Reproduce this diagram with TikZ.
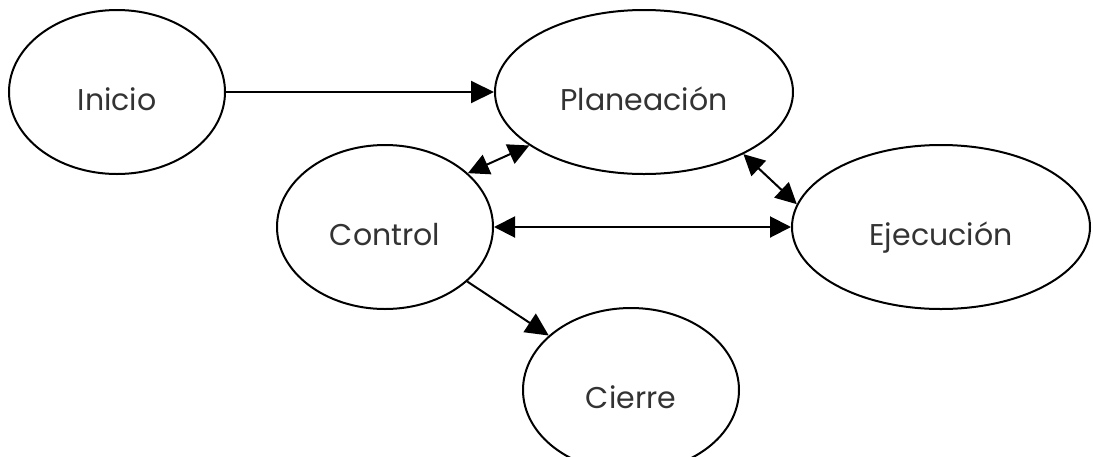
\documentclass[tikz,border=0pt]{standalone}
\usepackage{fontspec}
\setmainfont{Poppins}
\usetikzlibrary{shapes.geometric,arrows.meta}
\tikzset{
  etapa/.style={draw,ellipse,line width=2pt,inner sep=0pt,
    minimum height=164pt,text=black!80,text height=36pt,text depth=0pt,
    font=\fontsize{30}{32}\selectfont},
  flecha/.style={line width=2pt,-{Triangle[length=23pt,width=22pt]}},
  doble/.style={line width=2pt,{Triangle[length=21pt,width=21pt]}-{Triangle[length=21pt,width=21pt]}}
}
\begin{document}
\begin{tikzpicture}[x=1pt,y=1pt]
\clip (0,0) rectangle (1093,-456);
\node[etapa,minimum width=216pt] (inicio) at (117,-92) {Inicio};
\node[etapa,minimum width=298pt] (plan) at (644,-92) {Planeación};
\node[etapa,minimum width=216pt] (control) at (385,-227) {Control};
\node[etapa,minimum width=298pt] (ejec) at (941,-227) {Ejecución};
\node[etapa,minimum width=216pt] (cierre) at (631,-390) {Cierre};

\draw[flecha] (inicio) -- (plan);
\draw[doble] (control.33) -- (plan.205);
\draw[doble] (plan.-32) -- (ejec.171);
\draw[doble] (control) -- (ejec);
\draw[flecha] (control) -- (cierre);
\end{tikzpicture}
\end{document}
